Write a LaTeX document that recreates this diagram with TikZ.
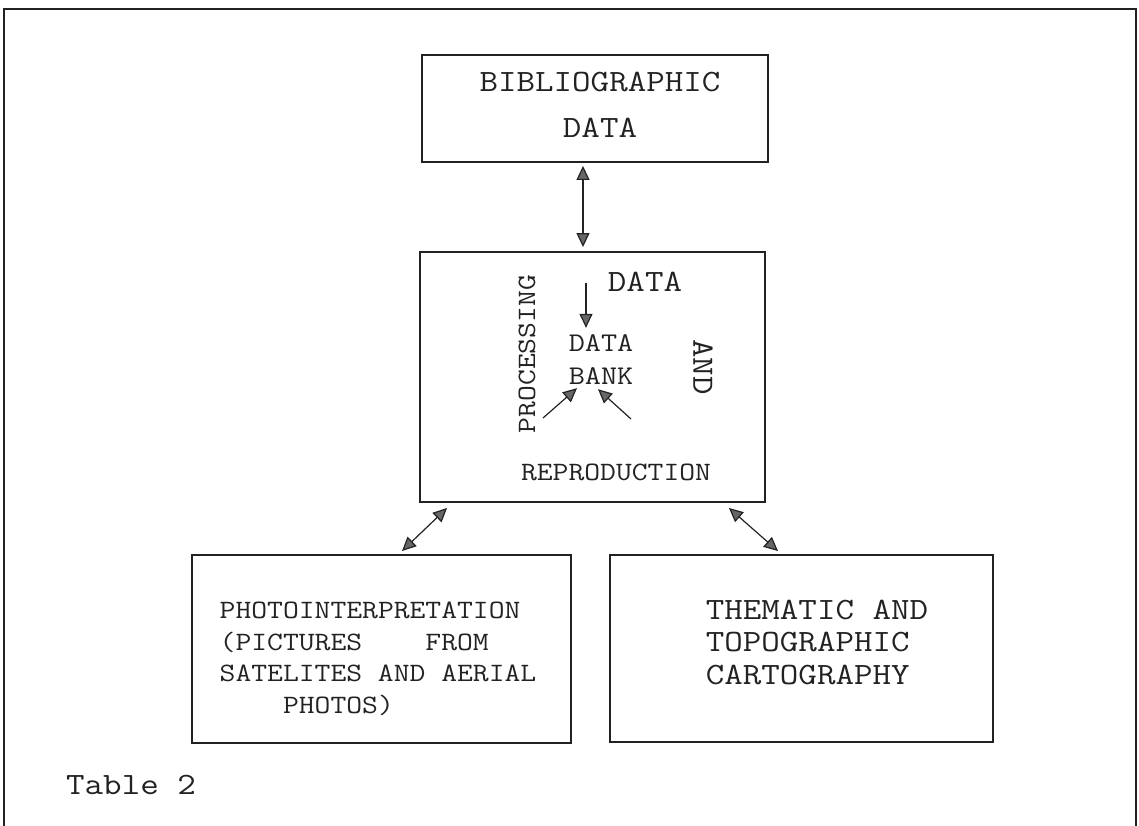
\documentclass[tikz,border=0pt]{standalone}
\usepackage{fontspec}
\setmainfont{Latin Modern Mono}[FakeStretch=1.16, WordSpace={1,0,0}]
\usetikzlibrary{arrows.meta}
\definecolor{ink}{HTML}{222222}
\definecolor{tipgray}{HTML}{666666}

\begin{document}
\begin{tikzpicture}[x=1pt, y=-1pt,
    every node/.style = {inner sep=0pt, text=ink},
    box/.style = {draw=ink, line width=1.9pt, rectangle},
    big/.style = {font=\fontsize{31}{46}\selectfont},
    mid/.style = {font=\fontsize{31}{32.5}\selectfont},
    small/.style = {font=\fontsize{26.5}{31.5}\selectfont},
    bank/.style = {font=\fontsize{27}{33}\selectfont},
    link/.style = {draw=ink, line width=1.2pt,
      >={Triangle[length=14pt,width=13pt,fill=tipgray]}}]
  \useasboundingbox (0,0) rectangle (1139,825);
  \draw[ink, line width=1.4pt] (4,826) -- (4,9) -- (1136,9) -- (1136,826);

  \node[box, minimum width=346pt, minimum height=107pt] (bib) at (595,108.5) {};
  \node[box, minimum width=345pt, minimum height=250pt] (proc) at (592.5,377) {};
  \node[box, minimum width=379pt, minimum height=188pt] (photo) at (381.5,649) {};
  \node[box, minimum width=383pt, minimum height=187pt] (carto) at (801.5,648.5) {};

  \node[big, align=center] (bibtxt) at (600,105) {BIBLIOGRAPHIC\\DATA};
  \node[small, align=left] (phototxt) at (378,659)
    {PHOTOINTERPRETATION\\(PICTURES\phantom{0000}FROM\\SATELITES AND AERIAL\\\phantom{0000}PHOTOS)};
  \node[mid, align=left] (cartotxt) at (817,642) {THEMATIC AND\\TOPOGRAPHIC\\CARTOGRAPHY};

  \node[mid] (dtop) at (645,282) {DATA};
  \node[small, rotate=90] (processing) at (527,354) {PROCESSING};
  \node[mid, rotate=-90] (and) at (703,367) {AND};
  \node[bank, align=center] (databank) at (601,360) {DATA\\BANK};
  \node[small] (repro) at (616,472) {REPRODUCTION};
  \node[mid, anchor=west] (table) at (66,785) {Table 2};

  \coordinate (feed) at (586,283);
  \coordinate (lfoot) at (543,418);
  \coordinate (rfoot) at (631,419);

  \draw[link, <->] ([xshift=-12pt,yshift=-3pt]bib.south) -- ([xshift=-9.5pt,yshift=4pt]proc.north);
  \draw[link, <->] ([xshift=20.5pt,yshift=3pt]photo.north) -- ([xshift=28pt,yshift=-5pt]proc.south west);
  \draw[link, <->] ([xshift=-37pt,yshift=-5pt]proc.south east) -- ([xshift=-23.5pt,yshift=3pt]carto.north);

  \draw[link, ->] (feed) -- ([xshift=-15pt,yshift=7pt]databank.north);
  \draw[link, ->] (lfoot) -- ([xshift=-24pt,yshift=-3pt]databank.south);
  \draw[link, ->] (rfoot) -- ([xshift=-3pt,yshift=-4pt]databank.south);
\end{tikzpicture}
\end{document}
